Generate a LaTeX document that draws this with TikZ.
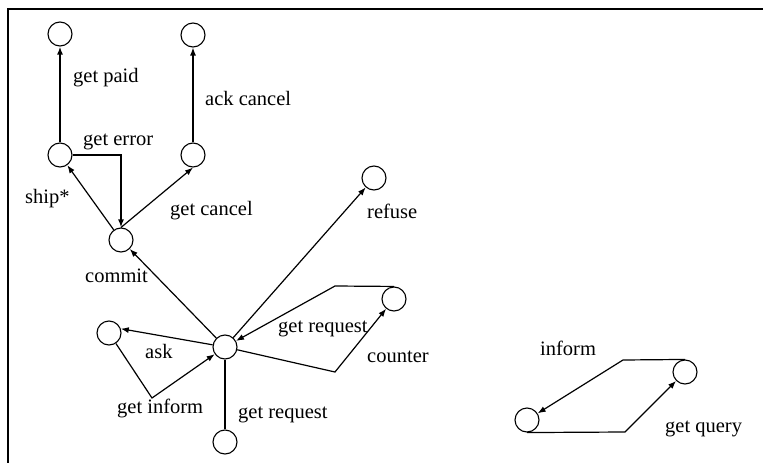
\documentclass[tikz,border=0pt]{standalone}
\usepackage{fontspec}
\setmainfont{Liberation Serif}
\usepackage{tikz}
\usetikzlibrary{arrows.meta,positioning}

\begin{document}
\begin{tikzpicture}[
  x=1pt,y=-1pt,
  state/.style={circle,draw,line width=1.1pt,minimum size=24pt,inner sep=0pt},
  arrow/.style={-{Latex[length=8pt,width=6pt]},line width=1.2pt},
  heavy/.style={arrow,line width=1.8pt},
  lbl/.style={anchor=base west,inner sep=0pt,font=\fontsize{20.5}{24}\selectfont}
]
\useasboundingbox (0,0) rectangle (763,463);
\draw[line width=2pt] (8,463) -- (8,9) -- (763,9);

% states
\node[state] (paid) at (60,34) {};
\node[state] (ackd) at (193,35) {};
\node[state] (ship) at (60,155) {};
\node[state] (canc) at (193,155) {};
\node[state] (comm) at (121,240) {};
\node[state] (refu) at (374,178) {};
\node[state] (ask) at (109,333) {};
\node[state] (hub) at (225,347) {};
\node[state] (ctr) at (394,299) {};
\node[state] (req) at (225,442) {};
\node[state] (qry) at (685,372) {};
\node[state] (inf) at (527,420) {};

% bends
\coordinate (infbend) at (152,398);
\coordinate (ctrbend) at (335,372);
\coordinate (reqbend) at (335,286);
\coordinate (infotop) at (623,360);
\coordinate (qrybot) at (625,432);

% transitions
\draw[heavy] (ship) -- (paid);
\draw[arrow] (canc) -- (ackd);
\draw[heavy] (ship.east) -| (comm.north);
\draw[arrow] (comm) -- (ship);
\draw[arrow] (comm.north) -- (canc.south);
\draw[arrow] (hub) -- (comm);
\draw[arrow] (hub) -- (refu);
\draw[arrow] (hub) -- (ask.20);
\draw[arrow] (ask) -- (infbend) -- (hub);
\draw[arrow] (hub) -- (ctrbend) -- (ctr);
\draw[arrow] (ctr.north) -- (reqbend) -- (hub);
\draw[line width=1.8pt] (req) -- (hub);
\draw[arrow] (qry.north) -- (infotop) -- (inf);
\draw[arrow] (inf.south) -- (qrybot) -- (qry);

% labels
\node[lbl] (lpaid) at (73,82) {get paid};
\node[lbl] (lack) at (205,105) {ack cancel};
\node[lbl] (lerr) at (83,145) {get error};
\node[lbl] (lship) at (25,203) {ship*};
\node[lbl] (lcanc) at (170,215) {get cancel};
\node[lbl] (lcomm) at (85,282) {commit};
\node[lbl] (lrefu) at (367,218) {refuse};
\node[lbl] (lreq) at (278,332) {get request};
\node[lbl] (lask) at (145,358) {ask};
\node[lbl] (lctr) at (367,362) {counter};
\node[lbl] (linf) at (117,413) {get inform};
\node[lbl] (lreq2) at (238,418) {get request};
\node[lbl] (linfo) at (540,355) {inform};
\node[lbl] (lqry) at (665,432) {get query};
\end{tikzpicture}
\end{document}
